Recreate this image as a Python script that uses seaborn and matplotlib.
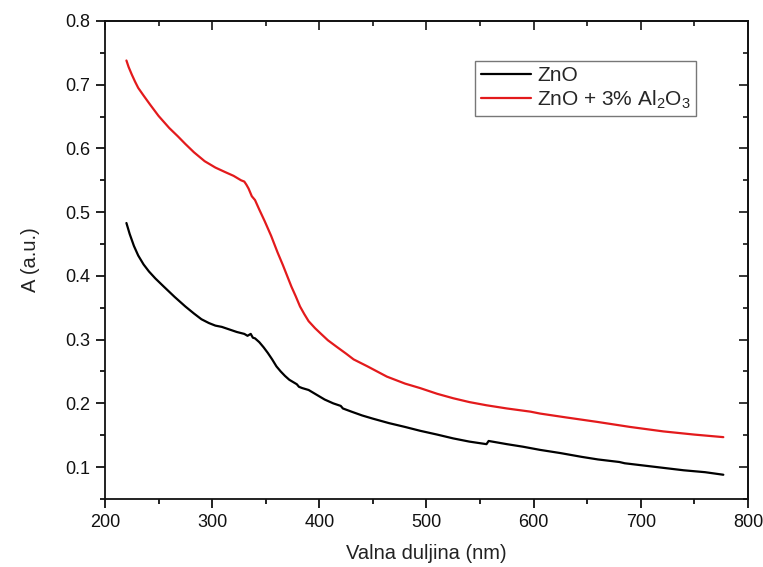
import numpy as np
import pandas as pd
import seaborn as sns
from matplotlib import pyplot as plt
from matplotlib.ticker import MultipleLocator

# values
zno_nm = [220, 223, 227, 231, 236, 241, 247, 255, 265, 275, 283, 290, 297, 303, 309,
          316, 323, 330, 333, 336, 338, 340, 344, 348, 352, 356, 360, 364, 368, 372,
          376, 379, 381, 384, 390, 398, 405, 413, 420, 422, 430, 440, 450, 465, 480,
          494, 510, 525, 540, 556, 558, 575, 590, 606, 625, 645, 660, 680, 685, 700,
          720, 740, 760, 777]
zno_a = [0.483, 0.466, 0.447, 0.432, 0.418, 0.407, 0.396, 0.383, 0.367, 0.352, 0.341,
         0.332, 0.326, 0.322, 0.320, 0.316, 0.312, 0.309, 0.306, 0.309, 0.303, 0.302,
         0.296, 0.288, 0.279, 0.269, 0.258, 0.250, 0.243, 0.237, 0.233, 0.230, 0.226,
         0.224, 0.221, 0.213, 0.206, 0.200, 0.196, 0.192, 0.187, 0.181, 0.176, 0.169,
         0.163, 0.157, 0.151, 0.145, 0.140, 0.136, 0.141, 0.136, 0.132, 0.127, 0.122,
         0.116, 0.112, 0.108, 0.106, 0.103, 0.099, 0.095, 0.092, 0.088]

al_nm = [220, 222, 225, 228, 231, 236, 242, 250, 260, 268, 275, 283, 293, 303, 312,
         320, 327, 330, 332, 334, 337, 340, 344, 349, 355, 361, 366, 370, 374, 378,
         382, 386, 390, 396, 401, 408, 416, 425, 432, 445, 463, 480, 494, 510, 525,
         540, 556, 575, 597, 606, 630, 659, 690, 721, 750, 777]
al_a = [0.738, 0.728, 0.716, 0.705, 0.695, 0.683, 0.669, 0.651, 0.632, 0.619, 0.607,
        0.594, 0.580, 0.570, 0.563, 0.557, 0.550, 0.548, 0.543, 0.537, 0.525, 0.519,
        0.504, 0.486, 0.463, 0.437, 0.417, 0.400, 0.383, 0.368, 0.352, 0.340, 0.329,
        0.318, 0.310, 0.299, 0.289, 0.278, 0.269, 0.258, 0.242, 0.231, 0.224, 0.215,
        0.208, 0.202, 0.197, 0.192, 0.187, 0.184, 0.178, 0.171, 0.163, 0.156, 0.151,
        0.147]

labels = ['ZnO', 'ZnO + 3% Al$_\\mathregular{2}$O$_\\mathregular{3}$']
colors = ['#000000', '#e31a1c']

df = pd.concat([
    pd.DataFrame({'nm': zno_nm, 'A': zno_a, 'sample': labels[0]}),
    pd.DataFrame({'nm': al_nm, 'A': al_a, 'sample': labels[1]}),
])

sns.set_style('ticks')
plt.rcParams['font.family'] = ['Liberation Sans', 'DejaVu Sans']

fig = plt.figure(figsize=(7.63, 5.67), dpi=100)
ax = fig.add_axes([0.1376, 0.120, 0.8427, 0.843])

sns.lineplot(data=df, x='nm', y='A', hue='sample', palette=colors, sort=False,
             linewidth=1.6, ax=ax)

ax.set_xlim(200, 800)
ax.set_ylim(0.05, 0.8)
ax.xaxis.set_major_locator(MultipleLocator(100))
ax.xaxis.set_minor_locator(MultipleLocator(50))
ax.yaxis.set_major_locator(MultipleLocator(0.1))
ax.yaxis.set_minor_locator(MultipleLocator(0.05))
ax.set_yticks([0.1, 0.2, 0.3, 0.4, 0.5, 0.6, 0.7, 0.8])
ax.set_yticklabels(['0.1', '0.2', '0.3', '0.4', '0.5', '0.6', '0.7', '0.8'])

for s in ax.spines.values():
    s.set_visible(True)
    s.set_linewidth(1.3)
    s.set_color('#111111')

ax.tick_params(which='major', direction='out', length=6.5, width=1.3, labelsize=13,
               colors='#111111', pad=4)
ax.tick_params(which='minor', direction='out', length=3.6, width=1.3, colors='#111111')

# top and right ticks point inward
top = ax.secondary_xaxis('top')
top.xaxis.set_major_locator(MultipleLocator(100))
top.xaxis.set_minor_locator(MultipleLocator(50))
top.tick_params(which='major', direction='in', length=6.5, width=1.3, labeltop=False)
top.tick_params(which='minor', direction='in', length=3.6, width=1.3)
top.spines['top'].set_linewidth(1.3)
right = ax.secondary_yaxis('right')
right.yaxis.set_major_locator(MultipleLocator(0.1))
right.yaxis.set_minor_locator(MultipleLocator(0.05))
right.tick_params(which='major', direction='in', length=6.5, width=1.3, labelright=False)
right.tick_params(which='minor', direction='in', length=3.6, width=1.3)
right.spines['right'].set_linewidth(1.3)

ax.set_xlabel('Valna duljina (nm)', fontsize=14.5, labelpad=10, color='#222222')
ax.set_ylabel('A (a.u.)', fontsize=14.5, labelpad=18, color='#222222')

handles, _ = ax.get_legend_handles_labels()
leg = ax.legend(handles, labels, loc='upper right', bbox_to_anchor=(0.919, 0.916),
                fontsize=15, frameon=True, fancybox=False, borderpad=0.25,
                labelspacing=0.15, handlelength=2.4, handletextpad=0.3,
                borderaxespad=0)
leg.get_frame().set_edgecolor('#555555')
leg.get_frame().set_linewidth(1.0)
for line in leg.get_lines():
    line.set_linewidth(1.6)

fig.savefig('out.png', dpi=100)
